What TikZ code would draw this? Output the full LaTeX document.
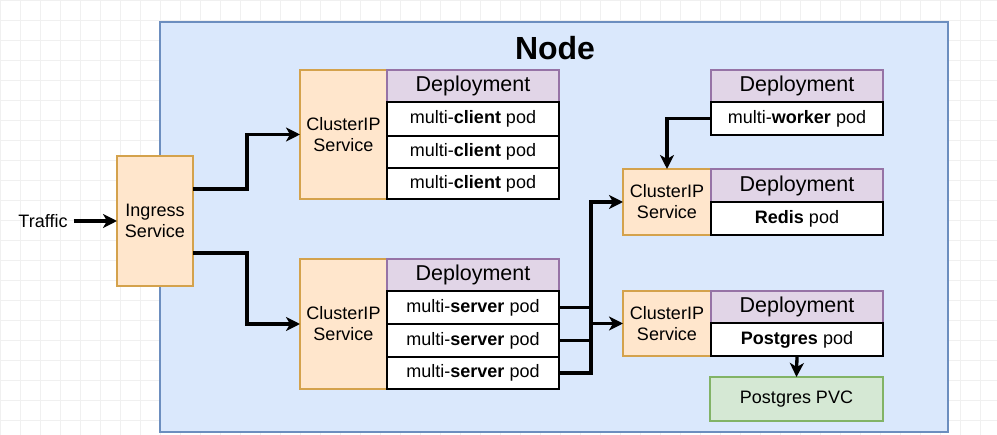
\documentclass[tikz,border=0pt]{standalone}
\usepackage{fontspec}
\setmainfont{Liberation Sans}
\usetikzlibrary{arrows.meta}
\definecolor{nodefill}{HTML}{DAE8FC}
\definecolor{nodeline}{HTML}{6C8EBF}
\definecolor{orfill}{HTML}{FFE6CC}
\definecolor{orline}{HTML}{D4A24C}
\definecolor{pufill}{HTML}{E1D5E7}
\definecolor{puline}{HTML}{9673A6}
\definecolor{grfill}{HTML}{D5E8D4}
\definecolor{grline}{HTML}{82B366}
\definecolor{gridc}{HTML}{F0F0F0}
\begin{document}
\begin{tikzpicture}[x=1pt,y=-1pt,
  box/.style={anchor=north west, inner sep=0pt, outer sep=0pt, align=center},
  svc/.style={box, draw=orline, fill=orfill, line width=2pt, font=\fontsize{18}{21}\selectfont},
  dep/.style={box, draw=puline, fill=pufill, line width=1.5pt, font=\fontsize{21.5}{24}\selectfont, minimum width=172pt, minimum height=32pt},
  pod/.style={box, draw=black, fill=white, line width=2pt, font=\fontsize{18}{21}\selectfont, minimum width=172pt},
  pvcbox/.style={box, draw=grline, fill=grfill, line width=1.5pt, font=\fontsize{18}{21}\selectfont, minimum width=173pt, minimum height=44pt},
  wire/.style={line width=3.3pt},
  conn/.style={line width=3.3pt, -{Stealth[length=14pt,width=14pt,inset=4pt]}},
  lbl/.style={inner sep=0pt, font=\fontsize{18}{21}\selectfont, align=center}
]
\useasboundingbox (0,0) rectangle (997,435);
\fill[white] (0,0) rectangle (997,435);
% grid
\foreach \gx in {0,20,...,990} \draw[gridc, line width=0.6pt] (\gx,0) -- (\gx,435);
\foreach \gy in {0,20,...,430} \draw[gridc, line width=0.6pt] (0,\gy) -- (997,\gy);
% Node container
\node[box, draw=nodeline, fill=nodefill, line width=1.5pt, minimum width=788pt, minimum height=410pt] (nodebox) at (160,22) {};
\node[inner sep=0pt, font=\bfseries\fontsize{32}{36}\selectfont] (nodetitle) at (555,48) {Node};

% Ingress
\node[svc, minimum width=76pt, minimum height=130pt] (ingress) at (117,156) {Ingress\\Service};
\node[lbl] (traffic) at (43,221) {Traffic};

% Client group
\node[svc, minimum width=87pt, minimum height=129pt] (csvc1) at (300,70) {ClusterIP\\Service};
\node[dep] (cdep) at (387,70) {Deployment};
\node[pod, minimum height=34pt] (c1) at (387,102) {multi-\textbf{client} pod};
\node[pod, minimum height=32pt] (c2) at (387,136) {multi-\textbf{client} pod};
\node[pod, minimum height=31pt] (c3) at (387,168) {multi-\textbf{client} pod};

% Server group
\node[svc, minimum width=87pt, minimum height=130pt] (csvc2) at (300,259) {ClusterIP\\Service};
\node[dep] (sdep) at (387,259) {Deployment};
\node[pod, minimum height=33pt] (s1) at (387,291) {multi-\textbf{server} pod};
\node[pod, minimum height=33pt] (s2) at (387,324) {multi-\textbf{server} pod};
\node[pod, minimum height=32pt] (s3) at (387,357) {multi-\textbf{server} pod};

% Worker
\node[dep] (wdep) at (711,70) {Deployment};
\node[pod, minimum height=33pt] (wpod) at (711,102) {multi-\textbf{worker} pod};

% Redis
\node[svc, minimum width=88pt, minimum height=66pt] (rsvc) at (623,169) {ClusterIP\\Service};
\node[dep, minimum height=33pt] (rdep) at (711,169) {Deployment};
\node[pod, minimum height=33pt] (rpod) at (711,202) {\textbf{Redis} pod};

% Postgres
\node[svc, minimum width=88pt, minimum height=65pt] (psvc) at (623,291) {ClusterIP\\Service};
\node[dep] (pdep) at (711,291) {Deployment};
\node[pod, minimum height=33pt] (ppod) at (711,323) {\textbf{Postgres} pod};
\node[pvcbox] (pvc) at (710,377) {Postgres PVC};

% Connectors
\draw[conn] (traffic.east) ++(6,0) -- (ingress.west);
\draw[conn] ([yshift=-33pt]ingress.north east) -- ++(54,0) |- (csvc1.west);
\draw[conn] ([yshift=33pt]ingress.south east) -- ++(54,0) |- (csvc2.west);
\coordinate (junc) at (591,0);
\draw[wire] (s1.east) -- (s1.east -| junc);
\draw[wire] (s2.east) -- (s2.east -| junc);
\draw[conn] (s3.east) -- (s3.east -| junc) |- (rsvc.west);
\draw[conn] (junc |- psvc.west) -- (psvc.west);
\draw[conn] (wpod.west) -| (rsvc.north);
\draw[conn] (ppod.south) -- (pvc.north);
\end{tikzpicture}
\end{document}
